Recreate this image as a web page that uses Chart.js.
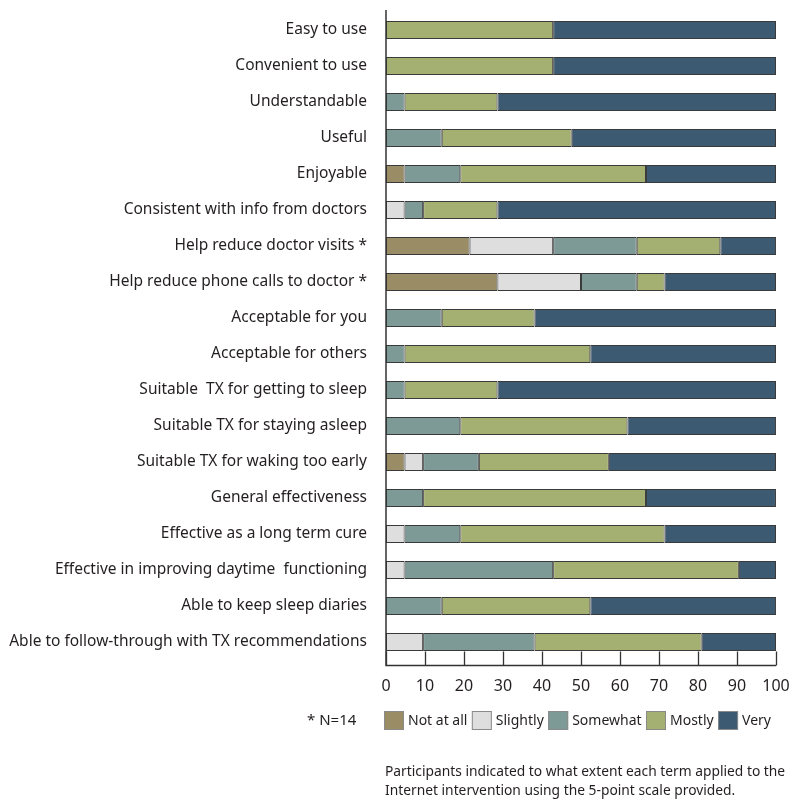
<!DOCTYPE html>
<html>
<head>
<meta charset="utf-8">
<script src="https://cdn.jsdelivr.net/npm/chart.js@4.4.1/dist/chart.umd.min.js"></script>
<style>
  html, body { margin: 0; padding: 0; background: #ffffff; }
  #wrap { position: relative; width: 800px; height: 808px; }
  canvas { display: block; }
  .note { position: absolute; font-family: "Noto Sans", sans-serif; color: #231f20; white-space: nowrap; }
  #nnote { left: 307px; top: 709px; font-size: 15px; }
  #foot { left: 385px; top: 761px; font-size: 13.8px; line-height: 19px; }
</style>
</head>
<body>
<div id="wrap">
  <canvas id="c" width="800" height="808"></canvas>
  <div class="note" id="nnote">* N=14</div>
  <div class="note" id="foot">Participants indicated to what extent each term applied to the<br>Internet intervention using the 5-point scale provided.</div>
</div>
<script>
const categories = [
  "Easy to use",
  "Convenient to use",
  "Understandable",
  "Useful",
  "Enjoyable",
  "Consistent with info from doctors",
  "Help reduce doctor visits *",
  "Help reduce phone calls to doctor *",
  "Acceptable for you",
  "Acceptable for others",
  "Suitable  TX for getting to sleep",
  "Suitable TX for staying asleep",
  "Suitable TX for waking too early",
  "General effectiveness",
  "Effective as a long term cure",
  "Effective in improving daytime  functioning",
  "Able to keep sleep diaries",
  "Able to follow-through with TX recommendations"
];
const seriesNames = ["Not at all", "Slightly", "Somewhat", "Mostly", "Very"];
const notAtAll = [0, 0, 0, 0, 4.76, 0, 21.43, 28.57, 0, 0, 0, 0, 4.76, 0, 0, 0, 0, 0];
const slightly = [0, 0, 0, 0, 0, 4.76, 21.43, 21.43, 0, 0, 0, 0, 4.76, 0, 4.76, 4.76, 0, 9.52];
const somewhat = [0, 0, 4.76, 14.29, 14.29, 4.76, 21.43, 14.29, 14.29, 4.76, 4.76, 19.05, 14.29, 9.52, 14.29, 38.10, 14.29, 28.57];
const mostly   = [42.86, 42.86, 23.81, 33.33, 47.62, 19.05, 21.43, 7.14, 23.81, 47.62, 23.81, 42.86, 33.33, 57.14, 52.38, 47.62, 38.10, 42.86];
const very     = [57.14, 57.14, 71.43, 52.38, 33.33, 71.43, 14.29, 28.57, 61.90, 47.62, 71.43, 38.10, 42.86, 33.33, 28.57, 9.52, 47.62, 19.05];
const xTicks = [0, 10, 20, 30, 40, 50, 60, 70, 80, 90, 100];
const colors = ["#9a8c64", "#dedede", "#7e9a96", "#a3b072", "#3c5a72"];

const seriesValues = [notAtAll, slightly, somewhat, mostly, very];
const datasets = seriesValues.map((vals, i) => ({
  label: seriesNames[i],
  data: vals.map(v => (v === 0 ? null : v)),
  backgroundColor: colors[i],
  borderColor: "#3a3a3a",
  borderWidth: 1,
  borderSkipped: false,
  barPercentage: 0.5,
  categoryPercentage: 1.0
}));

const FONT = '"Noto Sans", sans-serif';
const ink = "#231f20";

const axisPlugin = {
  id: "axisBox",
  afterDatasetsDraw(chart) {
    const ctx = chart.ctx;
    const area = chart.chartArea;
    const xs = chart.scales.x;
    const baseY = area.bottom + 5.5;
    const tickLen = 14;
    ctx.save();
    ctx.strokeStyle = "#333333";
    ctx.lineWidth = 1.5;
    ctx.beginPath();
    ctx.moveTo(xs.getPixelForValue(0), area.top - 2);
    ctx.lineTo(xs.getPixelForValue(0), baseY);
    ctx.lineTo(xs.getPixelForValue(100), baseY);
    ctx.stroke();
    ctx.lineWidth = 1.3;
    xTicks.forEach(t => {
      const px = Math.round(xs.getPixelForValue(t)) + 0.5;
      ctx.beginPath();
      ctx.moveTo(px, baseY);
      ctx.lineTo(px, baseY - tickLen);
      ctx.stroke();
    });
    ctx.restore();
  },
  afterDraw(chart) {
    const ctx = chart.ctx;
    const xs = chart.scales.x;
    const startX = xs.getPixelForValue(0) - 2;
    const endX = xs.getPixelForValue(100) - 5;
    const boxW = 20, boxH = 19, textGap = 4;
    const top = 711;
    ctx.save();
    ctx.font = "14px " + FONT;
    const widths = seriesNames.map(s => ctx.measureText(s).width);
    const total = widths.reduce((a, b) => a + b, 0) + seriesNames.length * (boxW + textGap);
    const gap = (endX - startX - total) / (seriesNames.length - 1);
    let x = startX;
    seriesNames.forEach((name, i) => {
      ctx.fillStyle = colors[i];
      ctx.fillRect(x, top, boxW, boxH);
      ctx.strokeStyle = "#8a8a8a";
      ctx.lineWidth = 1;
      ctx.strokeRect(x + 0.5, top + 0.5, boxW - 1, boxH - 1);
      ctx.fillStyle = ink;
      ctx.textBaseline = "middle";
      ctx.textAlign = "left";
      ctx.fillText(name, x + boxW + textGap, top + boxH / 2 + 1);
      x += boxW + textGap + widths[i] + gap;
    });
    ctx.restore();
  }
};

new Chart(document.getElementById("c"), {
  type: "bar",
  data: { labels: categories, datasets: datasets },
  options: {
    indexAxis: "y",
    responsive: false,
    animation: false,
    devicePixelRatio: 1,
    layout: { padding: { top: 12, right: 24, left: 0, bottom: 0 } },
    plugins: { legend: { display: false }, tooltip: { enabled: false } },
    scales: {
      x: {
        stacked: true,
        min: 0,
        max: 100,
        grid: { display: false, drawTicks: false },
        border: { display: false },
        afterBuildTicks(scale) { scale.ticks = xTicks.map(v => ({ value: v })); },
        ticks: { font: { family: FONT, size: 16 }, color: ink, padding: 17, maxRotation: 0, autoSkip: false },
        afterFit(scale) { scale.height = 148; scale.paddingLeft = 0; scale.paddingRight = 0; }
      },
      y: {
        stacked: true,
        grid: { display: false, drawTicks: false },
        border: { display: false },
        ticks: { font: { family: FONT, size: 15.5 }, color: ink, padding: 19, autoSkip: false },
        afterFit(scale) { scale.width = 386; scale.paddingTop = 0; scale.paddingBottom = 0; }
      }
    }
  },
  plugins: [axisPlugin]
});
</script>
</body>
</html>
